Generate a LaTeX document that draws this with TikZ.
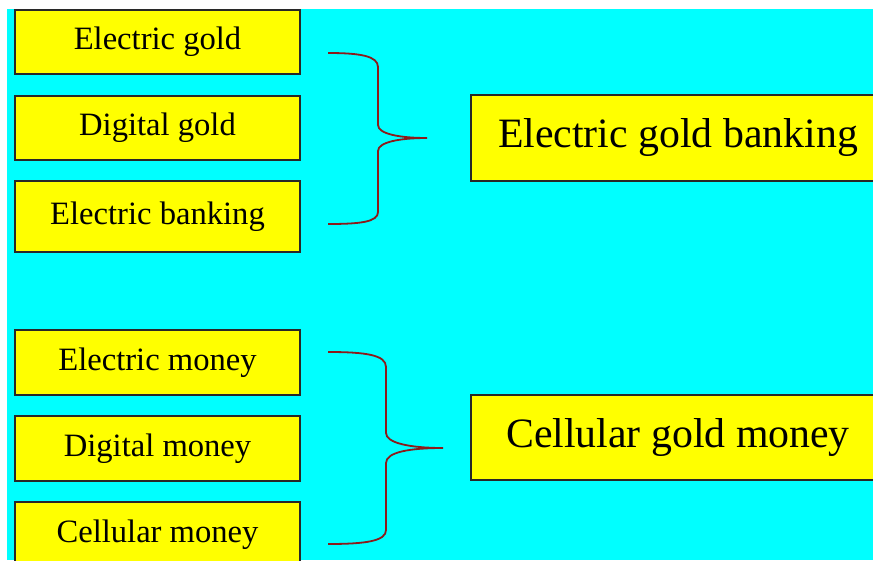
\documentclass[tikz,border=0pt]{standalone}
\usepackage{fontspec}
\setmainfont{Liberation Serif}
\usepackage{xcolor}
\usepackage{tikz}
\usetikzlibrary{calc,positioning}

\definecolor{bgcyan}{RGB}{0,255,255}
\definecolor{boxyellow}{RGB}{255,255,0}
\definecolor{boxline}{RGB}{40,40,40}
\definecolor{bracered}{RGB}{140,26,26}

\begin{document}
\begin{tikzpicture}[x=1pt,y=-1pt,brace/.style = {draw=bracered,line width=1.8pt}]
	\tikzset{term/.style={draw=boxline,line width=2pt,fill=boxyellow,rectangle,inner sep=0pt,minimum width=285pt,minimum height=64pt,font=\fontsize{32.6}{38}\selectfont}}
	\tikzset{result/.style={term,minimum width=414pt,minimum height=86pt,font=\fontsize{41.8}{48}\selectfont}}

	\useasboundingbox (0,0) rectangle (873,560);
	\clip (0,0) rectangle (873,560);
	\fill[bgcyan] (7,9) rectangle (873,560);

	% Gold group

	\node[term] (egold) at (157.5,42) {Electric gold};
	\node[term] (dgold) at (157.5,128) {Digital gold};
	\node[term, minimum height=71pt] (ebank) at (157.5,216.5) {Electric banking};
	\node[result] (egb) at (678,138) {Electric gold banking};

	% Money group

	\node[term, minimum height=65pt] (emoney) at (157.5,362.5) {Electric money};
	\node[term, minimum height=65pt] (dmoney) at (157.5,448.5) {Digital money};
	\node[term, minimum height=66pt] (cmoney) at (157.5,535) {Cellular money};
	\node[result, minimum height=85pt] (cgm) at (678,437.5) {Cellular gold money};

	% Braces

	\coordinate (ga) at (328,53);
	\coordinate (gb) at (328,224);
	\coordinate (gtip) at ($(egb.west)+(-43,0)$);
	\draw[brace] (ga) .. controls (360,53) and (378,56) .. (378,67) -- (378,125)
		.. controls (378,134) and (400,138) .. (gtip)
		.. controls (400,138) and (378,142) .. (378,151) -- (378,212)
		.. controls (378,222) and (360,224) .. (gb);

	\coordinate (ma) at (328,352);
	\coordinate (mb) at (328,544);
	\coordinate (mtip) at (443,448);
	\draw[brace] (ma) .. controls (366,352) and (386,355) .. (386,367) -- (386,433)
		.. controls (386,443) and (410,448) .. (mtip)
		.. controls (410,448) and (386,452) .. (386,463) -- (386,530)
		.. controls (386,541) and (366,544) .. (mb);

\end{tikzpicture}
\end{document}
